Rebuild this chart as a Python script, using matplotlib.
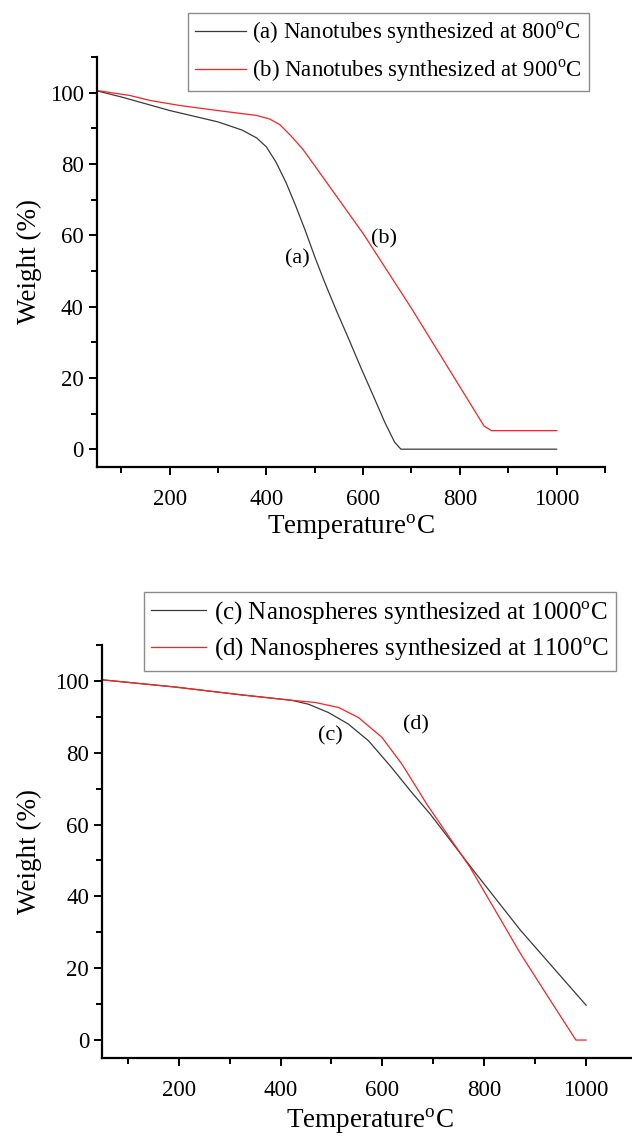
import matplotlib
matplotlib.use("Agg")
import matplotlib.pyplot as plt
from matplotlib.ticker import MultipleLocator

plt.rcParams['font.family'] = ['Liberation Serif', 'DejaVu Serif']
plt.rcParams['mathtext.fontset'] = 'custom'
plt.rcParams['mathtext.rm'] = 'Liberation Serif'

# top panel: nanotubes
temp_a = [50, 100, 150, 200, 250, 300, 350, 380, 400, 420, 440, 460, 480, 500,
          520, 545, 570, 595, 620, 645, 665, 678, 1000]
weight_a = [100.5, 98.8, 96.9, 95.0, 93.4, 91.8, 89.5, 87.3, 84.8, 80.5, 75.0,
            68.5, 61.5, 54.0, 47.0, 38.8, 31.0, 23.0, 15.3, 7.5, 2.0, 0.0, 0.0]
temp_b = [50, 118, 160, 221, 304, 380, 407, 428, 450, 475, 500, 550, 600, 650,
          700, 750, 800, 850, 865, 1000]
weight_b = [100.6, 99.2, 97.8, 96.4, 94.9, 93.6, 92.6, 91.0, 88.0, 84.2, 79.5,
            70.0, 60.5, 50.0, 39.5, 28.5, 17.5, 6.5, 5.2, 5.2]

# bottom panel: nanospheres
temp_c = [50, 193, 324, 422, 455, 494, 533, 573, 618, 655, 694, 779, 871, 1000]
weight_c = [100.3, 98.3, 96.1, 94.6, 93.5, 91.2, 88.0, 83.3, 75.9, 69.4, 62.9,
            47.2, 30.6, 9.7]
temp_d = [50, 193, 324, 422, 468, 514, 553, 599, 638, 671, 687, 772, 818, 871,
          930, 980, 1000]
weight_d = [100.3, 98.3, 96.1, 94.6, 94.0, 92.6, 89.8, 84.3, 76.9, 69.4, 65.7,
            48.1, 37.0, 24.1, 11.0, 0.0, 0.0]

labels_top = [r'(a) Nanotubes synthesized at 800$^{\mathrm{o}}$C',
              r'(b) Nanotubes synthesized at 900$^{\mathrm{o}}$C']
labels_bot = [r'(c) Nanospheres synthesized at 1000$^{\mathrm{o}}$C',
              r'(d) Nanospheres synthesized at 1100$^{\mathrm{o}}$C']

W, H = 632, 1136
fig = plt.figure(figsize=(W / 100, H / 100), dpi=100)

ax1 = fig.add_axes([97 / W, 1 - 467 / H, 508 / W, 410 / H])
ax2 = fig.add_axes([102.3 / W, 1 - 1058 / H, 534.7 / W, 413 / H])

BLACK = '#3a3a3a'
RED = '#ff2020'


def style_axis(ax):
    ax.set_xlim(50, 1100)
    ax.set_ylim(-5, 110)
    ax.spines['top'].set_visible(False)
    ax.spines['right'].set_visible(False)
    for s in ['left', 'bottom']:
        ax.spines[s].set_linewidth(1.6)
        ax.spines[s].set_color('black')
    ax.xaxis.set_major_locator(MultipleLocator(200))
    ax.xaxis.set_minor_locator(MultipleLocator(100))
    ax.set_yticks([0, 20, 40, 60, 80, 100])
    ax.set_yticks([10, 30, 50, 70, 90, 110], minor=True)
    ax.tick_params(axis='both', which='major', direction='out', width=1.4,
                   labelsize=16.5, length=6, colors='black')
    ax.tick_params(axis='both', which='minor', direction='out', width=1.4,
                   length=4)
    ax.tick_params(axis='x', which='major', pad=10)
    ax.set_xlabel(r'Temperature$^{\mathrm{o}}$C', fontsize=19.5)
    ax.set_ylabel('Weight (%)', fontsize=19.5)


style_axis(ax1)
style_axis(ax2)

ax1.plot(temp_a, weight_a, color=BLACK, lw=0.9, label=labels_top[0])
ax1.plot(temp_b, weight_b, color=RED, lw=0.9, label=labels_top[1])
ax1.text(465, 53.4, '(a)', fontsize=16, ha='center', va='center')
ax1.text(644, 59.0, '(b)', fontsize=16, ha='center', va='center')

ax2.plot(temp_c, weight_c, color=BLACK, lw=0.9, label=labels_bot[0])
ax2.plot(temp_d, weight_d, color=RED, lw=0.9, label=labels_bot[1])
ax2.text(497, 84.7, '(c)', fontsize=16, ha='center', va='center')
ax2.text(666, 87.8, '(d)', fontsize=16, ha='center', va='center')

ax1.xaxis.set_label_coords(0.5, -0.11)
ax1.yaxis.set_label_coords(-0.108, 0.5)
ax2.xaxis.set_label_coords(0.5, -0.118)
ax2.yaxis.set_label_coords(-0.112, 0.5)

legend_specs = [(ax1, (589 / W, 1 - 13 / H), 16.5, 0.5),
                (ax2, (616 / W, 1 - 592 / H), 18.0, 0.38)]
for ax, anchor, fs, spacing in legend_specs:
    leg = ax.legend(loc='upper right', bbox_to_anchor=anchor,
                    bbox_transform=fig.transFigure, fontsize=fs,
                    frameon=True, fancybox=False, borderaxespad=0,
                    handlelength=2.2, handletextpad=0.3, labelspacing=spacing,
                    borderpad=0.3)
    leg.get_frame().set_edgecolor('#707070')
    leg.get_frame().set_linewidth(1.0)

fig.savefig('out.png', dpi=100)
